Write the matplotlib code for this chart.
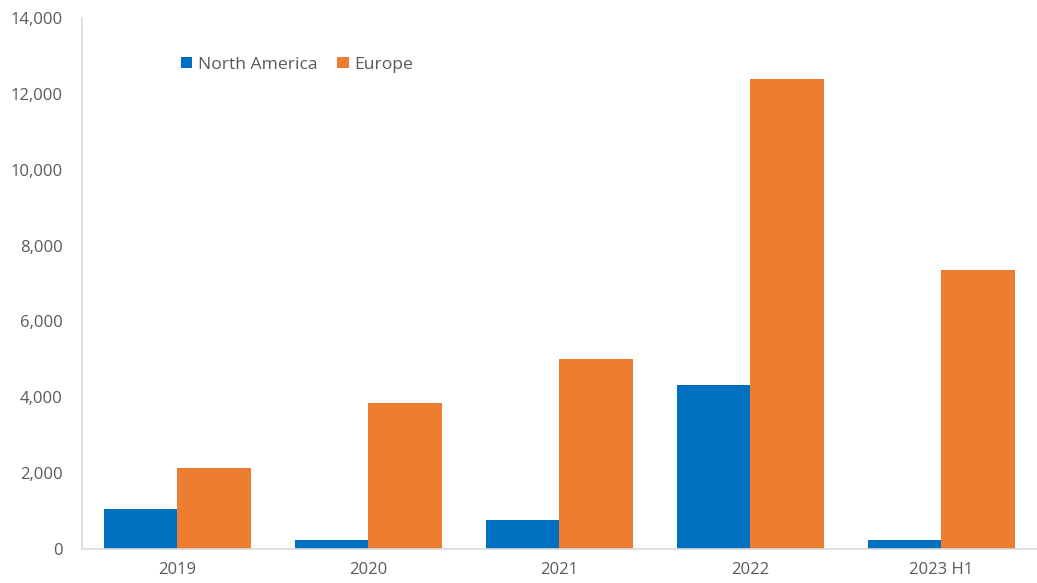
import matplotlib.pyplot as plt
import numpy as np

# Data
categories = ['2019', '2020', '2021', '2022', '2023 H1']
north_america = [1050, 230, 760, 4320, 240]
europe = [2140, 3860, 5010, 12400, 7350]

color_na = '#0070C0'
color_eu = '#ED7D31'
text_color = '#595959'
axis_color = '#D9D9D9'

plt.rcParams['font.family'] = ['Open Sans', 'DejaVu Sans']

fig = plt.figure(figsize=(10.37, 5.83), dpi=100)
ax = fig.add_axes([0.0791, 0.0583, 0.9205, 0.9108])

x = np.arange(len(categories))
width = 0.385

ax.bar(x - width / 2, north_america, width, color=color_na, label='North America')
ax.bar(x + width / 2, europe, width, color=color_eu, label='Europe')

ax.set_xlim(-0.5, len(categories) - 0.5)
ax.set_ylim(0, 14000)
ax.set_yticks(np.arange(0, 14001, 2000))
ax.set_yticklabels([f'{v:,}' for v in range(0, 14001, 2000)])
ax.set_xticks(x)
ax.set_xticklabels(categories)

for side in ['top', 'right']:
    ax.spines[side].set_visible(False)
ax.spines['left'].set_color(axis_color)
ax.spines['bottom'].set_color(axis_color)
ax.spines['left'].set_linewidth(1.2)
ax.spines['bottom'].set_linewidth(1.2)

ax.tick_params(axis='both', length=0, labelsize=12, colors=text_color)
ax.tick_params(axis='y', pad=14)
ax.tick_params(axis='x', pad=9)

leg = ax.legend(loc='upper left', bbox_to_anchor=(0.087, 0.957), ncol=2,
                frameon=False, fontsize=12.6, handlelength=0.66, handleheight=0.66,
                handletextpad=0.3, columnspacing=1.15)
for t in leg.get_texts():
    t.set_color(text_color)

plt.savefig('out.png', dpi=100, facecolor='white')
